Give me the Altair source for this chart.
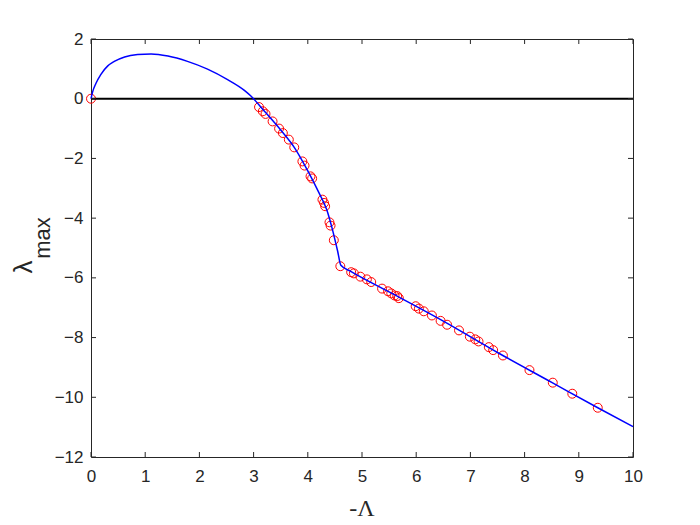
import altair as alt
import pandas as pd

# red circle samples
pts_x = [0.0, 3.10, 3.17, 3.22, 3.35, 3.47, 3.54, 3.65, 3.75, 3.90, 3.94, 4.05, 4.08,
         4.27, 4.30, 4.32, 4.40, 4.42, 4.48, 4.60, 4.80, 4.85, 4.97, 5.09, 5.17,
         5.37, 5.48, 5.54, 5.60, 5.65, 5.68, 5.99, 6.05, 6.14, 6.29, 6.45, 6.57,
         6.79, 6.99, 7.09, 7.15, 7.34, 7.42, 7.60, 8.09, 8.52, 8.88, 9.35]
pts_y = [0.0, -0.28, -0.42, -0.51, -0.76, -1.00, -1.15, -1.37, -1.63, -2.10, -2.24, -2.60, -2.67,
         -3.38, -3.49, -3.60, -4.14, -4.25, -4.74, -5.61, -5.81, -5.85, -5.96, -6.05, -6.14,
         -6.36, -6.45, -6.52, -6.59, -6.61, -6.68, -6.95, -7.03, -7.12, -7.26, -7.44, -7.57,
         -7.76, -7.97, -8.06, -8.13, -8.32, -8.42, -8.60, -9.09, -9.51, -9.88, -10.35]

# blue curve
curve_x = [0.0, 0.03, 0.09, 0.18, 0.31, 0.43, 0.62, 0.86, 1.11, 1.42, 1.78, 2.15, 2.52,
           2.83, 2.95, 3.20, 3.50, 3.75, 4.00, 4.20, 4.35, 4.45, 4.55, 4.61, 4.80,
           5.50, 6.50, 7.50, 8.50, 9.35, 10.0]
curve_y = [0.0, 0.23, 0.51, 0.81, 1.10, 1.25, 1.40, 1.48, 1.50, 1.43, 1.25, 0.99, 0.64,
           0.28, 0.09, -0.42, -1.05, -1.63, -2.42, -3.13, -3.72, -4.35, -5.10, -5.58, -5.79,
           -6.47, -7.45, -8.50, -9.50, -10.35, -10.98]

zero_x = [0.0, 10.0]
zero_y = [0.0, 0.0]

x_ticks = list(range(0, 11))
y_ticks = list(range(-12, 3, 2))

W, H = 542, 418
xs = alt.Scale(domain=[0, 10], nice=False, zero=False)
ys = alt.Scale(domain=[-12, 2], nice=False, zero=False)

label_font = "Liberation Sans"
label_color = "#262626"

xaxis = alt.Axis(values=x_ticks, ticks=False, grid=False, domain=False, title=None,
                 labelFont=label_font, labelFontSize=17, labelColor=label_color,
                 labelPadding=11, labelFlush=False)
yaxis = alt.Axis(values=y_ticks, ticks=False, grid=False, domain=False, title=None,
                 labelFont=label_font, labelFontSize=17, labelColor=label_color,
                 labelPadding=8)

pts_df = pd.DataFrame({"x": pts_x, "y": pts_y})
curve_df = pd.DataFrame({"x": curve_x, "y": curve_y})
zero_df = pd.DataFrame({"x": zero_x, "y": zero_y})
xt_df = pd.DataFrame({"x": x_ticks})
yt_df = pd.DataFrame({"y": y_ticks})

circles = alt.Chart(pts_df).mark_point(shape="circle", filled=False, color="#FF0000",
                                       size=80, strokeWidth=1, opacity=1).encode(
    x=alt.X("x:Q", scale=xs, axis=xaxis),
    y=alt.Y("y:Q", scale=ys, axis=yaxis),
)

zero = alt.Chart(zero_df).mark_line(color="#000000", strokeWidth=2).encode(
    x=alt.X("x:Q", scale=xs), y=alt.Y("y:Q", scale=ys)
)

curve = alt.Chart(curve_df).mark_line(color="#0000FF", strokeWidth=1.5,
                                      interpolate="monotone").encode(
    x=alt.X("x:Q", scale=xs), y=alt.Y("y:Q", scale=ys)
)

TL = 5
tick_style = dict(color=label_color, strokeWidth=1)
xt_bottom = alt.Chart(xt_df).mark_rule(**tick_style).encode(
    x=alt.X("x:Q", scale=xs), y=alt.value(H), y2=alt.value(H - TL))
xt_top = alt.Chart(xt_df).mark_rule(**tick_style).encode(
    x=alt.X("x:Q", scale=xs), y=alt.value(0), y2=alt.value(TL))
yt_left = alt.Chart(yt_df).mark_rule(**tick_style).encode(
    y=alt.Y("y:Q", scale=ys), x=alt.value(0), x2=alt.value(TL))
yt_right = alt.Chart(yt_df).mark_rule(**tick_style).encode(
    y=alt.Y("y:Q", scale=ys), x=alt.value(W), x2=alt.value(W - TL))

lam = alt.Chart(pd.DataFrame({"t": ["λ"]})).mark_text(
    font=label_font, fontSize=26, angle=270, align="center", baseline="middle",
    color=label_color).encode(x=alt.value(-67), y=alt.value(228), text="t:N")
sub = alt.Chart(pd.DataFrame({"t": ["max"]})).mark_text(
    font=label_font, fontSize=22, angle=270, align="center", baseline="middle",
    color=label_color).encode(x=alt.value(-48), y=alt.value(199), text="t:N")
xtitle = alt.Chart(pd.DataFrame({"t": ["-Λ"]})).mark_text(
    font="Liberation Serif", fontSize=24, align="center", baseline="middle",
    color=label_color).encode(x=alt.value(W / 2), y=alt.value(470), text="t:N")

chart = alt.layer(
    circles, zero, curve, xt_bottom, xt_top, yt_left, yt_right, lam, sub, xtitle
).properties(
    width=W, height=H,
    autosize=alt.AutoSizeParams(type="none"),
    padding={"left": 83, "top": 31, "right": 50, "bottom": 66},
    background="white",
).configure_view(stroke=label_color, strokeWidth=1)

chart.save("out.html", embed_options={"renderer": "svg", "actions": False})
